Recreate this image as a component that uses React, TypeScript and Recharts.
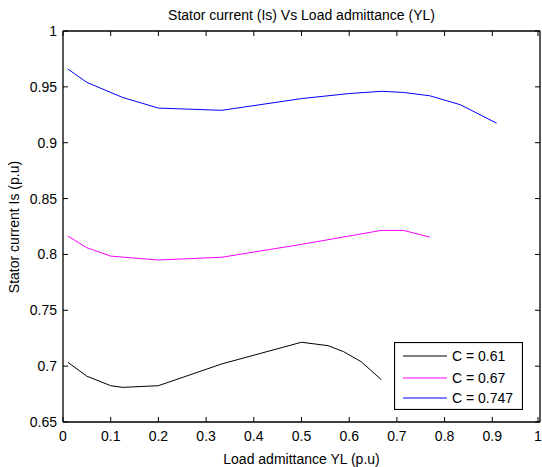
import React from 'react';
import { LineChart, Line, XAxis, YAxis, Legend } from 'recharts';

const blackX = [0.01, 0.05, 0.1, 0.125, 0.2, 0.333, 0.5, 0.556, 0.588, 0.625, 0.667];
const blackY = [0.7035, 0.691, 0.6825, 0.681, 0.6825, 0.702, 0.7214, 0.7183, 0.713, 0.704, 0.688];

const magentaX = [0.01, 0.05, 0.1, 0.2, 0.333, 0.5, 0.667, 0.714, 0.769];
const magentaY = [0.8165, 0.806, 0.7985, 0.795, 0.7975, 0.809, 0.8215, 0.8215, 0.8155];

const blueX = [0.01, 0.05, 0.125, 0.2, 0.333, 0.5, 0.6, 0.667, 0.714, 0.769, 0.833, 0.909];
const blueY = [0.966, 0.954, 0.9405, 0.931, 0.929, 0.9395, 0.944, 0.946, 0.945, 0.942, 0.934, 0.9175];

const xTicks = [0, 0.1, 0.2, 0.3, 0.4, 0.5, 0.6, 0.7, 0.8, 0.9, 1];
const yTicks = [0.65, 0.7, 0.75, 0.8, 0.85, 0.9, 0.95, 1];

const titleText = 'Stator current (Is) Vs Load admittance (YL)';
const xLabelText = 'Load admittance YL (p.u)';
const yLabelText = 'Stator current Is (p.u)';

const seriesNames = ['C = 0.61', 'C = 0.67', 'C = 0.747'];
const seriesColors = ['#000000', '#ff00ff', '#0000ff'];

const zip = (xs: number[], ys: number[]) => xs.map((x, i) => ({ x, y: ys[i] }));
const seriesData = [zip(blackX, blackY), zip(magentaX, magentaY), zip(blueX, blueY)];

const FONT = '"Liberation Sans", Arial, Helvetica, sans-serif';
const FS = 14;
const TL = 5;

const BottomTick = (props: any) => {
  const { x, y, payload } = props;
  return (
    <g>
      <line x1={x} y1={y} x2={x} y2={y - TL} stroke="#000" strokeWidth={1} />
      <text x={x} y={y + 14} textAnchor="middle" dominantBaseline="central" fontFamily={FONT} fontSize={FS} fill="#000">
        {String(payload.value)}
      </text>
    </g>
  );
};

const TopTick = (props: any) => {
  const { x, y } = props;
  return <line x1={x} y1={y} x2={x} y2={y + TL} stroke="#000" strokeWidth={1} />;
};

const LeftTick = (props: any) => {
  const { x, y, payload } = props;
  return (
    <g>
      <line x1={x} y1={y} x2={x + TL} y2={y} stroke="#000" strokeWidth={1} />
      <text x={x - 6} y={y} textAnchor="end" dominantBaseline="central" fontFamily={FONT} fontSize={FS} fill="#000">
        {String(payload.value)}
      </text>
    </g>
  );
};

const RightTick = (props: any) => {
  const { x, y } = props;
  return <line x1={x} y1={y} x2={x - TL} y2={y} stroke="#000" strokeWidth={1} />;
};

const rowTops = [5, 27, 47];

const LegendBox = () => (
  <svg width={129} height={68} style={{ display: 'block' }}>
    <rect x={0.5} y={0.5} width={128} height={67} fill="#fff" stroke="#000" strokeWidth={1.2} />
    {seriesNames.map((n, i) => (
      <g key={n}>
        <line x1={9} x2={53} y1={rowTops[i] + 9} y2={rowTops[i] + 9} stroke={seriesColors[i]} strokeWidth={1} />
        <text x={58} y={rowTops[i] + 9} dominantBaseline="central" fontFamily={FONT} fontSize={FS} fill="#000">
          {n}
        </text>
      </g>
    ))}
  </svg>
);

export default function App() {
  return (
    <div style={{ position: 'absolute', left: 0, top: 0, width: 542, height: 467, background: '#fff', fontFamily: FONT }}>
      <LineChart width={542} height={467} margin={{ top: 30, right: 1, bottom: 15, left: 3 }}>
        <XAxis
          dataKey="x"
          type="number"
          domain={[0, 1]}
          ticks={xTicks}
          height={30}
          tickSize={0}
          tickMargin={0}
          tick={<BottomTick />}
          axisLine={{ stroke: '#000', strokeWidth: 1.3 }}
          allowDataOverflow
        />
        <XAxis
          xAxisId="top"
          orientation="top"
          dataKey="x"
          type="number"
          domain={[0, 1]}
          ticks={xTicks}
          height={1}
          tickSize={0}
          tickMargin={0}
          tick={<TopTick />}
          axisLine={{ stroke: '#000', strokeWidth: 1.3 }}
          allowDataOverflow
        />
        <YAxis
          type="number"
          domain={[0.65, 1]}
          ticks={yTicks}
          width={60}
          tickSize={0}
          tickMargin={0}
          tick={<LeftTick />}
          axisLine={{ stroke: '#000', strokeWidth: 1.3 }}
          allowDataOverflow
        />
        <YAxis
          yAxisId="right"
          orientation="right"
          type="number"
          domain={[0.65, 1]}
          ticks={yTicks}
          width={1}
          tickSize={0}
          tickMargin={0}
          tick={<RightTick />}
          axisLine={{ stroke: '#000', strokeWidth: 1.3 }}
          allowDataOverflow
        />
        {seriesData.map((d, i) => (
          <Line
            key={seriesNames[i]}
            data={d}
            dataKey="y"
            name={seriesNames[i]}
            type="linear"
            stroke={seriesColors[i]}
            strokeWidth={1}
            dot={false}
            activeDot={false}
            isAnimationActive={false}
          />
        ))}
        <Legend
          layout="vertical"
          align="center"
          verticalAlign="middle"
          content={<LegendBox />}
          wrapperStyle={{ position: 'absolute', left: 394, top: 342, width: 129, height: 68 }}
        />
      </LineChart>
      <div style={{ position: 'absolute', left: 63, width: 477, top: 7, lineHeight: '16px', textAlign: 'center', fontSize: FS, color: '#000' }}>
        {titleText}
      </div>
      <div style={{ position: 'absolute', left: 63, width: 477, top: 451, lineHeight: '16px', textAlign: 'center', fontSize: FS, color: '#000' }}>
        {xLabelText}
      </div>
      <div
        style={{
          position: 'absolute',
          left: 14 - 100,
          top: 227 - 8,
          width: 200,
          lineHeight: '16px',
          textAlign: 'center',
          fontSize: FS,
          color: '#000',
          transform: 'rotate(-90deg)',
          transformOrigin: '50% 50%',
          whiteSpace: 'nowrap',
        }}
      >
        {yLabelText}
      </div>
    </div>
  );
}
